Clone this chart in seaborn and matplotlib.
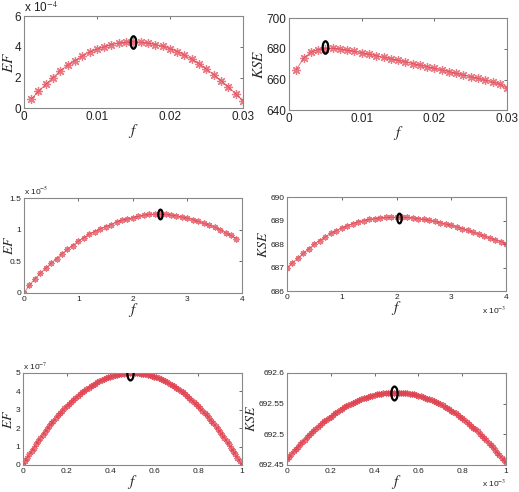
import numpy as np
import matplotlib
matplotlib.use("Agg")
import matplotlib.pyplot as plt
from matplotlib.path import Path
import seaborn as sns

# ---- data ----
# panel 1: EF (x1e-4) vs f
f1 = np.round(np.arange(1, 31) * 0.001, 3)
ef1 = [0.6, 1.1, 1.55, 2.0, 2.45, 2.8, 3.1, 3.4, 3.65, 3.85,
       4.0, 4.15, 4.25, 4.3, 4.33, 4.3, 4.25, 4.15, 4.05, 3.88,
       3.7, 3.45, 3.2, 2.9, 2.55, 2.2, 1.8, 1.4, 0.95, 0.5]
peak1 = (0.015, 4.35)

# panel 2: KSE vs f
f2 = f1
kse2 = [666.5, 674.0, 677.8, 679.5, 680.2, 680.4, 679.9, 679.1, 678.3, 677.4,
        676.5, 675.5, 674.5, 673.5, 672.5, 671.5, 670.4, 669.4, 668.3, 667.2,
        666.2, 665.1, 664.0, 662.9, 661.8, 660.7, 659.5, 658.3, 657.0, 654.3]
peak2 = (0.005, 681.0)

# panel 3: EF (x1e-5) vs f
f3 = np.round(np.arange(0, 40) * 0.1, 1)
ef3 = [0.0, 0.12, 0.22, 0.31, 0.39, 0.47, 0.54, 0.62, 0.69, 0.75,
       0.82, 0.87, 0.93, 0.97, 1.01, 1.05, 1.08, 1.12, 1.15, 1.17,
       1.19, 1.21, 1.23, 1.24, 1.245, 1.245, 1.24, 1.23, 1.22, 1.2,
       1.18, 1.16, 1.13, 1.1, 1.07, 1.04, 1.0, 0.95, 0.91, 0.86]
peak3 = (2.5, 1.24)

# panel 4: KSE vs f (x1e-3)
f4 = np.round(np.arange(0, 41) * 0.1, 1)
kse4 = [687.0, 687.2, 687.4, 687.6, 687.8, 688.0, 688.15, 688.3, 688.45, 688.57,
        688.68, 688.78, 688.87, 688.94, 689.0, 689.05, 689.08, 689.11, 689.13, 689.14,
        689.14, 689.14, 689.13, 689.11, 689.08, 689.05, 689.01, 688.96, 688.91, 688.85,
        688.79, 688.73, 688.66, 688.58, 688.5, 688.42, 688.34, 688.26, 688.18, 688.1, 688.02]
peak4 = (2.05, 689.12)

# panel 5: EF (x1e-7) vs f
f5 = np.round(np.arange(0, 101) * 0.01, 2)
ef5_half = [0.0, 0.20, 0.39, 0.58, 0.77, 0.95, 1.13, 1.30, 1.47, 1.64,
            1.80, 1.96, 2.11, 2.26, 2.41, 2.55, 2.69, 2.82, 2.95, 3.08,
            3.20, 3.32, 3.43, 3.54, 3.65, 3.75, 3.85, 3.94, 4.03, 4.12,
            4.20, 4.28, 4.35, 4.42, 4.49, 4.55, 4.61, 4.66, 4.71, 4.76,
            4.80, 4.84, 4.87, 4.90, 4.93, 4.95, 4.97, 4.98, 4.99, 5.00, 5.00]
ef5 = ef5_half + ef5_half[-2::-1]
peak5 = (0.49, 5.02)

# panel 6: KSE vs f (x1e-3)
f6 = f5
kse6 = [692.459, 692.463, 692.468, 692.472, 692.476, 692.480, 692.484, 692.488, 692.491, 692.495,
        692.499, 692.502, 692.506, 692.509, 692.512, 692.515, 692.518, 692.521, 692.524, 692.527,
        692.529, 692.532, 692.535, 692.537, 692.539, 692.542, 692.544, 692.546, 692.548, 692.550,
        692.551, 692.553, 692.555, 692.556, 692.557, 692.559, 692.560, 692.561, 692.562, 692.563,
        692.564, 692.565, 692.566, 692.566, 692.567, 692.567, 692.568, 692.568, 692.568, 692.568,
        692.568, 692.568, 692.568, 692.567, 692.567, 692.567, 692.566, 692.565, 692.565, 692.564,
        692.563, 692.562, 692.561, 692.560, 692.558, 692.557, 692.556, 692.554, 692.552, 692.551,
        692.549, 692.547, 692.545, 692.543, 692.541, 692.538, 692.536, 692.534, 692.531, 692.529,
        692.526, 692.523, 692.520, 692.517, 692.514, 692.511, 692.508, 692.505, 692.501, 692.498,
        692.494, 692.490, 692.486, 692.483, 692.479, 692.475, 692.470, 692.466, 692.462, 692.458,
        692.453]
peak6 = (0.49, 692.568)

# ---- styling ----
sns.set_style("white")
plt.rcParams["font.family"] = ["Liberation Sans", "DejaVu Sans"]
plt.rcParams["mathtext.fontset"] = "stix"

circ = Path.unit_circle()
ellipse = Path(circ.vertices * [0.45, 1.0], circ.codes)
asterisk = (8, 2, 0)
red = "#e0404e"

fig = plt.figure(figsize=(5.19, 4.92), dpi=100)

panels = [
    # rect, x, y, peak, xlim, ylim, xticks, yticks, xtl, ytl, ylabel, exp_top, exp_bot, tick fs, marker size, ellipse size
    ([0.046, 0.780, 0.422, 0.187], f1, ef1, peak1, (0, 0.03), (0, 6),
     [0, 0.01, 0.02, 0.03], [0, 2, 4, 6], ["0", "0.01", "0.02", "0.03"], ["0", "2", "4", "6"],
     "$EF$", "x 10$^{-4}$", None, 8.5, 6.5, 9),
    ([0.557, 0.776, 0.420, 0.187], f2, kse2, peak2, (0, 0.03), (640, 700),
     [0, 0.01, 0.02, 0.03], [640, 660, 680, 700], ["0", "0.01", "0.02", "0.03"], ["640", "660", "680", "700"],
     "$KSE$", None, None, 8.5, 6.5, 9),
    ([0.046, 0.4045, 0.420, 0.193], f3, ef3, peak3, (0, 4), (0, 1.5),
     [0, 1, 2, 3, 4], [0, 0.5, 1, 1.5], ["0", "1", "2", "3", "4"], ["0", "0.5", "1", "1.5"],
     "$EF$", "x 10$^{-5}$", None, 6, 4.5, 7),
    ([0.553, 0.4085, 0.422, 0.191], f4, kse4, peak4, (0, 4), (686, 690),
     [0, 1, 2, 3, 4], [686, 687, 688, 689, 690], ["0", "1", "2", "3", "4"], ["686", "687", "688", "689", "690"],
     "$KSE$", None, "x 10$^{-3}$", 6, 4.5, 7),
    ([0.044, 0.0549, 0.422, 0.187], f5, ef5, peak5, (0, 1), (0, 5),
     [0, 0.2, 0.4, 0.6, 0.8, 1], [0, 1, 2, 3, 4, 5], ["0", "0.2", "0.4", "0.6", "0.8", "1"],
     ["0", "1", "2", "3", "4", "5"], "$EF$", "x 10$^{-7}$", None, 6, 4.5, 10),
    ([0.553, 0.0549, 0.422, 0.187], f6, kse6, peak6, (0, 1), (692.45, 692.6),
     [0, 0.2, 0.4, 0.6, 0.8, 1], [692.45, 692.5, 692.55, 692.6], ["0", "0.2", "0.4", "0.6", "0.8", "1"],
     ["692.45", "692.5", "692.55", "692.6"], "$KSE$", None, "x 10$^{-3}$", 6, 4.5, 10),
]

for (rect, xs, ys, peak, xlim, ylim, xt, yt, xtl, ytl, ylab,
     exp_top, exp_bot, fs, ms, es) in panels:
    ax = fig.add_axes(rect)
    sns.lineplot(x=xs, y=ys, ax=ax, color=red, linewidth=0.7, alpha=0.7,
                 marker=asterisk, markersize=ms, markeredgewidth=0.9,
                 markeredgecolor=red, estimator=None, sort=False)
    ax.plot([peak[0]], [peak[1]], linestyle="none", marker=ellipse,
            markersize=es, markerfacecolor="none", markeredgecolor="black",
            markeredgewidth=1.6, zorder=5)
    ax.set_xlim(*xlim)
    ax.set_ylim(*ylim)
    ax.set_xticks(xt)
    ax.set_xticklabels(xtl)
    ax.set_yticks(yt)
    ax.set_yticklabels(ytl)
    ax.tick_params(direction="in", length=2.5, width=0.6, labelsize=fs,
                   top=True, right=True, colors="#555555", labelcolor="#222222", pad=2)
    for sp in ax.spines.values():
        sp.set_color("#888888")
        sp.set_linewidth(0.8)
    ax.set_xlabel("$f$", fontsize=11, labelpad=-1)
    ax.set_ylabel(ylab, fontsize=11 if fs > 7 else 10, labelpad=0)
    if rect[0] < 0.5:
        ax.yaxis.set_label_coords(-0.038, 0.5)
    if exp_top:
        ax.text(0.0, 1.01, exp_top, transform=ax.transAxes, fontsize=fs,
                ha="left", va="bottom", color="#222222")
    if exp_bot:
        ax.text(1.0, -0.2, exp_bot, transform=ax.transAxes, fontsize=fs,
                ha="right", va="center", color="#222222")

fig.savefig("out.png", dpi=100)
